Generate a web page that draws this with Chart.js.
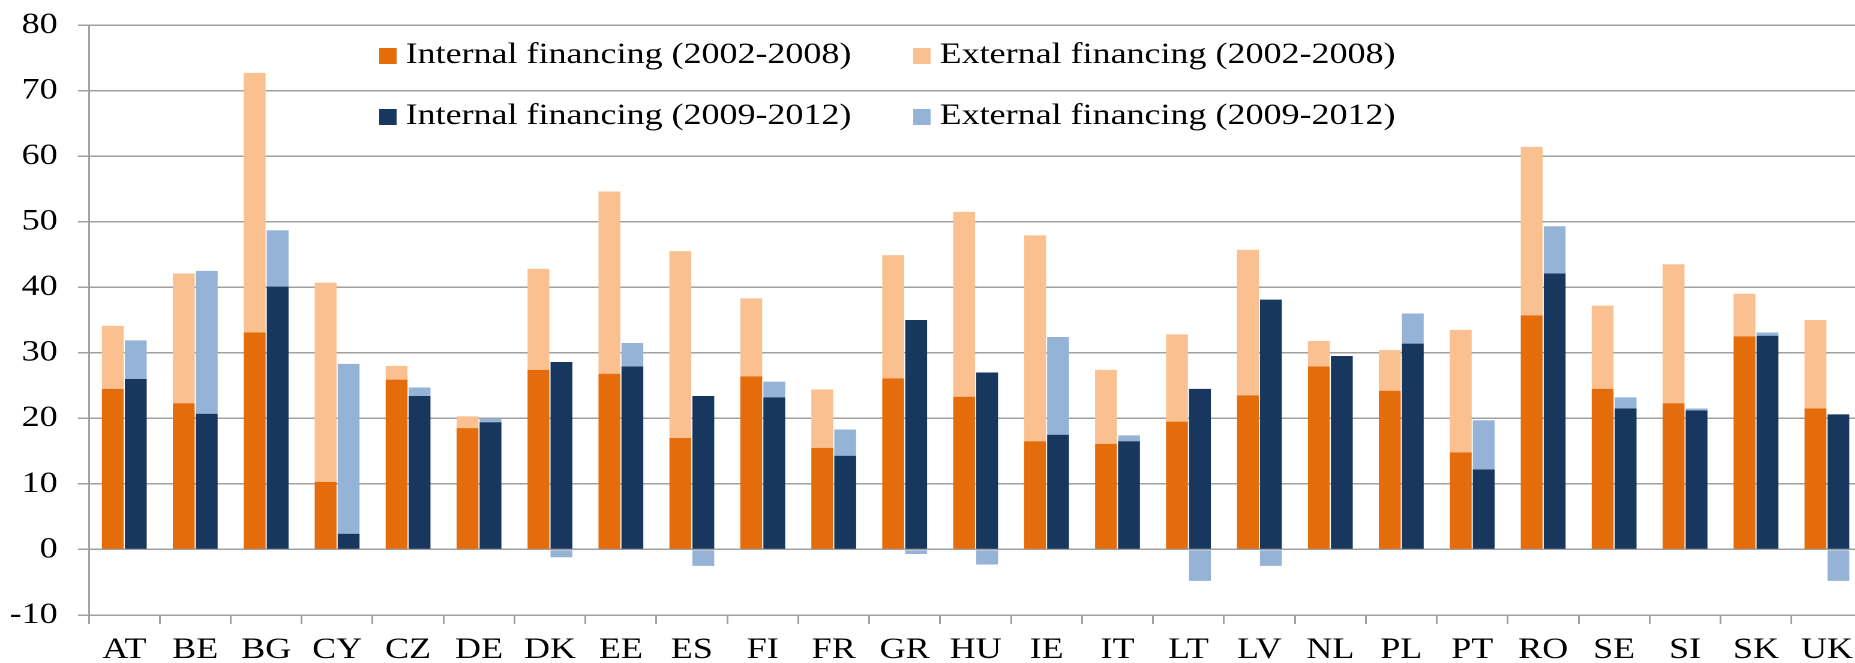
<!DOCTYPE html>
<html><head><meta charset="utf-8">
<script src="https://cdn.jsdelivr.net/npm/chart.js@4"></script>
<style>
html,body{margin:0;padding:0;background:#fff;overflow:hidden;width:1855px;height:663px;}
#wrap{position:absolute;left:0;top:0;width:1552px;height:663px;transform:scaleX(1.2);transform-origin:0 0;}
</style></head><body>
<div id="wrap"><canvas id="c"></canvas></div>
<script>
const countries = ['AT','BE','BG','CY','CZ','DE','DK','EE','ES','FI','FR','GR','HU','IE','IT','LT','LV','NL','PL','PT','RO','SE','SI','SK','UK'];
const internal0208 = [24.5,22.3,33.1,10.3,25.9,18.5,27.4,26.8,17.0,26.4,15.5,26.1,23.3,16.5,16.1,19.5,23.5,27.9,24.2,14.8,35.7,24.5,22.3,32.5,21.5];
const external0208 = [9.6,19.8,39.6,30.4,2.1,1.8,15.4,27.8,28.5,11.9,8.9,18.8,28.2,31.4,11.3,13.3,22.2,3.9,6.2,18.7,25.7,12.7,21.2,6.5,13.5];
const internal0912 = [26.0,20.7,40.1,2.4,23.4,19.4,28.6,27.9,23.4,23.2,14.3,35.0,27.0,17.5,16.5,24.5,38.1,29.5,31.4,12.2,42.1,21.5,21.2,32.6,20.6];
const external0912 = [5.9,21.8,8.6,25.9,1.3,0.5,-1.2,3.6,-2.5,2.4,4.0,-0.7,-2.3,14.9,0.9,-4.8,-2.5,0,4.6,7.5,7.2,1.7,0.3,0.5,-4.8];
const seriesNames = ['Internal financing (2002-2008)','External financing (2002-2008)','Internal financing (2009-2012)','External financing (2009-2012)'];
const yMin = -10, yMax = 80, yStep = 10;

const colors = ['#E46C0A','#FAC090','#17375E','#95B3D7'];
const FONT = '"Liberation Serif", "Times New Roman", serif';
const gridColor = '#A0A0A0';

const insideLegend = {
  id: 'insideLegend',
  afterDraw(chart) {
    const ctx = chart.ctx, a = chart.chartArea;
    const cols = [a.left + 242, a.left + 687];
    const rows = [a.top + 31, a.top + 92];
    ctx.save();
    ctx.font = '30px ' + FONT;
    ctx.textBaseline = 'middle';
    chart.data.datasets.forEach((ds, i) => {
      const x = cols[i % 2], y = rows[Math.floor(i / 2)];
      ctx.fillStyle = ds.backgroundColor;
      ctx.fillRect(x, y - 8, 14.5, 16);
      ctx.fillStyle = '#000';
      ctx.fillText(ds.label, x + 22, y - 1);
    });
    ctx.restore();
  }
};

const mk = (label, data, color, stack) => ({
  label, data, backgroundColor: color, stack,
  borderWidth: 0, categoryPercentage: 0.648, barPercentage: 0.95
});

new Chart(document.getElementById('c'), {
  type: 'bar',
  data: {
    labels: countries,
    datasets: [
      mk(seriesNames[0], internal0208, colors[0], 'p1'),
      mk(seriesNames[1], external0208, colors[1], 'p1'),
      mk(seriesNames[2], internal0912, colors[2], 'p2'),
      mk(seriesNames[3], external0912, colors[3], 'p2')
    ]
  },
  options: {
    responsive: true,
    maintainAspectRatio: false,
    devicePixelRatio: 2,
    animation: false,
    layout: { padding: { top: 25, left: 0, right: 0, bottom: 0 } },
    plugins: { legend: { display: false }, tooltip: { enabled: false } },
    scales: {
      x: {
        stacked: true,
        afterFit(s) { s.height = 48; s.paddingLeft = 0; s.paddingRight = 0; },
        grid: { drawOnChartArea: false, drawTicks: true, tickLength: 9, color: gridColor, lineWidth: 1.5, offset: true },
        border: { display: true, color: gridColor, width: 1.5 },
        ticks: { color: '#000', font: { family: FONT, size: 30 }, padding: 8, maxRotation: 0, autoSkip: false }
      },
      y: {
        stacked: true,
        min: yMin, max: yMax,
        afterFit(s) { s.width = 74; s.paddingTop = 0; s.paddingBottom = 0; },
        grid: { color: gridColor, lineWidth: 1.5, tickLength: 9, drawTicks: true },
        border: { display: true, color: gridColor, width: 1.5 },
        ticks: { stepSize: yStep, color: '#000', font: { family: FONT, size: 30 }, padding: 17 }
      }
    }
  },
  plugins: [insideLegend]
});
</script>
</body></html>
